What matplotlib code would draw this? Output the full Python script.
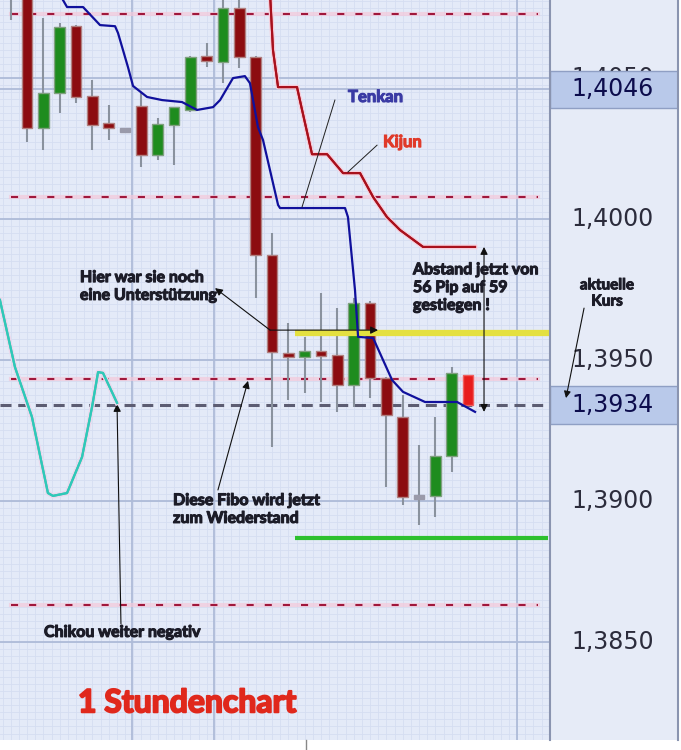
import numpy as np
import matplotlib.pyplot as plt
import matplotlib.patheffects as pe
from matplotlib.lines import Line2D
from matplotlib.patches import Rectangle

# EUR/USD 1h candles, bar 0 is the half visible one at the left edge
opens = [1.4095, 1.4092, 1.40323, 1.40447, 1.40684, 1.40436, 1.40340, 1.40316,
         1.40401, 1.40227, 1.40333, 1.40387, 1.40578, 1.40557, 1.40748, 1.40574,
         1.39872, 1.39525, 1.39511, 1.39532, 1.39518, 1.39411, 1.39702, 1.39436,
         1.39298, 1.39014, 1.39018, 1.39160, 1.39447]
closes = [1.4088, 1.40323, 1.40447, 1.40681, 1.40433, 1.40333, 1.40323, 1.40316,
          1.40227, 1.40337, 1.40397, 1.40574, 1.40560, 1.40748, 1.40574, 1.39872,
          1.39528, 1.39511, 1.39532, 1.39514, 1.39411, 1.39702, 1.39436, 1.39305,
          1.39014, 1.39014, 1.39160, 1.39454, 1.39340]
highs = [1.4100, 1.4100, 1.40713, 1.40695, 1.40690, 1.40493, 1.40404, 1.40322,
         1.40447, 1.40358, 1.40397, 1.40580, 1.40624, 1.40790, 1.40785, 1.40580,
         1.39950, 1.39631, 1.39582, 1.39738, 1.39684, 1.39720, 1.39710, 1.39440,
         1.39376, 1.39199, 1.39298, 1.39475, 1.39447]
lows = [1.40706, 1.40273, 1.40245, 1.40376, 1.40411, 1.40245, 1.40280, 1.40310,
        1.40184, 1.40209, 1.40191, 1.40380, 1.40539, 1.40482, 1.40535, 1.39720,
        1.39191, 1.39358, 1.39383, 1.39351, 1.39316, 1.39333, 1.39365, 1.39050,
        1.38986, 1.38915, 1.38943, 1.39103, 1.39340]

# ichimoku lines (x in bar index)
tenkan_x = [3.2, 3.45, 4.43, 5.47, 6.39, 6.57, 7.18, 7.49, 8.35, 9.27, 10.49, 11.41,
            12.39, 12.82, 13.61, 14.34, 14.65, 15.14, 15.45, 16.37, 16.49, 20.47,
            20.65, 21.08, 21.27, 22.19, 23.35, 24.02, 25.37, 27.33, 28.43]
tenkan_y = [1.40777, 1.40752, 1.40752, 1.40688, 1.40684, 1.40660, 1.40539, 1.40472,
            1.40433, 1.40422, 1.40415, 1.40387, 1.40397, 1.40422, 1.40500, 1.40507,
            1.40482, 1.40326, 1.40280, 1.40050, 1.40039, 1.40039, 1.40007, 1.39748,
            1.39582, 1.39578, 1.39429, 1.39387, 1.39351, 1.39351, 1.39316]
kijun_x = [15.88, 16.06, 16.37, 17.53, 17.84, 18.45, 19.37, 20.35, 21.39, 22.19,
           23.04, 23.84, 25.25, 28.43]
kijun_y = [1.40800, 1.40599, 1.40468, 1.40468, 1.40387, 1.40230, 1.40230, 1.40163,
           1.40163, 1.40078, 1.40007, 1.39961, 1.39901, 1.39901]
chikou_x = [-0.66, 0.26, 1.30, 2.28, 2.59, 3.45, 4.37, 4.98, 5.35, 5.65, 6.51]
chikou_y = [1.39713, 1.39475, 1.39298, 1.39028, 1.39018, 1.39028, 1.39156, 1.39333,
            1.39457, 1.39454, 1.39348]

fibo_levels = [1.40727, 1.40078, 1.39433, 1.38631]
current_price = 1.3934
marked_price = 1.4046
yellow_level = 1.39596
green_level = 1.38869
axis_ticks = [1.4050, 1.4000, 1.3950, 1.3900, 1.3850]
day_lines = [7.43, 12.45, 31.0]

plt.rcParams['font.family'] = ['Lato', 'DejaVu Sans']


def heavy(color, w=0.8):
    # fake a black weight: stroke the glyphs in their own colour
    return [pe.withStroke(linewidth=w, foreground=color)]


ink = '#1c1c28'
note = dict(fontsize=11.5, fontweight='bold', color=ink, va='center',
            linespacing=1.35, path_effects=heavy(ink))
arrow = dict(arrowstyle='-|>', color='#101010', lw=0.8, mutation_scale=11,
             shrinkA=0, shrinkB=0)

fig = plt.figure(figsize=(6.81, 7.5), dpi=100)
ax = fig.add_axes([0, 10 / 750, 550 / 681, 740 / 750])
ax.set_facecolor('#e4eaf8')
ax.set_xlim(-0.655, 33.02)
ax.set_ylim(1.38152, 1.40777)
for s in ax.spines.values():
    s.set_visible(False)
ax.set_xticks([])
ax.set_yticks([])

# fine mesh + main grid
for v in np.arange(1.3815, 1.4080, 0.00025):
    ax.axhline(v, color='#d5ddf1', lw=0.6, zorder=0)
for v in np.arange(-0.5, 33.5, 0.5):
    ax.axvline(v, color='#d5ddf1', lw=0.6, zorder=0)
for v in axis_ticks + [marked_price]:
    ax.axhline(v, color='#aebbd8', lw=1.3, zorder=0.5)
for v in day_lines:
    ax.axvline(v, color='#aebbd8', lw=1.3, zorder=0.5)

# fibo levels
for v in fibo_levels:
    ax.plot([0, 32.3], [v, v], color='#f4c8da', lw=3, alpha=0.7, zorder=1)
    ax.plot([0, 32.3], [v, v], color='#a0183c', lw=1.5, ls=(0, (3.4, 5.3)), zorder=1.1)
ax.axhline(current_price, color='#5c5c72', lw=2.2, ls=(0, (3.6, 2.2)), zorder=1.2)

# candles
n = len(opens)
for i in range(n):
    o, c, h, l = opens[i], closes[i], highs[i], lows[i]
    ax.vlines(i, l, h, color='#8a929e', lw=1.5, zorder=2)
    if c > o:
        fc, ec = '#1e8c1e', '#80a080'
    elif c < o:
        fc, ec = '#8c0c10', '#b08080'
    else:
        fc, ec = '#9a9aaa', '#9a9aaa'
    if i == n - 1:
        fc, ec = '#e81c1c', '#f06060'
    body = max(abs(c - o), 0.00012)
    bottom = min(o, c) if c != o else o - 0.00006
    ax.add_patch(Rectangle((i - 0.33, bottom), 0.66, body, fc=fc, ec=ec,
                           lw=1, zorder=2.5))

ax.plot([17.41, 33.1], [yellow_level] * 2, color='#e4e040', lw=4.5,
        solid_capstyle='butt', zorder=3)
ax.plot([17.41, 32.9], [green_level] * 2, color='#2ec02e', lw=3,
        solid_capstyle='butt', zorder=3)

ax.plot(kijun_x, kijun_y, color='#a8101c', lw=1.5, zorder=4,
        path_effects=[pe.withStroke(linewidth=3.4, foreground='#f7ccd9'), pe.Normal()])
ax.plot(tenkan_x, tenkan_y, color='#10109c', lw=1.6, zorder=4.2)
ax.plot(chikou_x, chikou_y, color='#30c8b8', lw=1.6, zorder=4,
        path_effects=[pe.withStroke(linewidth=3.6, foreground='#ecd8ec'), pe.Normal()])

# notes
ax.text(20.65, 1.40433, 'Tenkan', fontsize=12, fontweight='bold', color='#3a3aa4',
        va='center', zorder=6, path_effects=heavy('#3a3aa4'))
ax.plot([19.85, 17.84], [1.40422, 1.40043], color='#202020', lw=0.7, zorder=5)
ax.text(22.8, 1.40273, 'Kijun', fontsize=12, fontweight='bold', color='#e03a2a',
        va='center', zorder=6, path_effects=heavy('#e03a2a'))
ax.plot([22.43, 20.65], [1.40262, 1.40167], color='#202020', lw=0.7, zorder=5)

ax.text(24.63, 1.39755, 'Abstand jetzt von\n56 Pip auf 59\ngestiegen !', zorder=6, **note)
ax.annotate('', xy=(28.98, 1.39901), xytext=(28.98, 1.39316),
            arrowprops=dict(arrow, arrowstyle='<|-|>'))

ax.text(4.24, 1.39759, 'Hier war sie noch\neine Unterstützung', zorder=6, **note)
ax.annotate('', xy=(12.51, 1.39755), xytext=(15.88, 1.39606), arrowprops=arrow)
ax.annotate('', xy=(22.49, 1.39606), xytext=(15.88, 1.39606), arrowprops=arrow)

ax.text(9.94, 1.38968, 'Diese Fibo wird jetzt\nzum Wiederstand', zorder=6, **note)
ax.annotate('', xy=(14.53, 1.39426), xytext=(12.69, 1.39039), arrowprops=arrow)

ax.text(2.04, 1.38532, 'Chikou weiter negativ', zorder=6, **note)
ax.annotate('', xy=(6.51, 1.39344), xytext=(6.75, 1.38564), arrowprops=arrow)

ax.text(4.12, 1.38284, '1 Stundenchart', fontsize=23, fontweight='bold',
        color='#e0281c', va='center', zorder=6, path_effects=heavy('#e0281c', 1.4))

# price scale on the right
ax2 = fig.add_axes([550 / 681, 10 / 750, 128 / 681, 740 / 750])
ax2.set_facecolor('#e6ebf7')
ax2.set_xlim(0, 1)
ax2.set_ylim(ax.get_ylim())
ax2.set_xticks([])
ax2.set_yticks([])
for k in ('top', 'bottom'):
    ax2.spines[k].set_visible(False)
for k in ('left', 'right'):
    ax2.spines[k].set_color('#8a94b0')
    ax2.spines[k].set_linewidth(1.5)

for v in axis_ticks:
    ax2.text(0.17, v, f'{v:.4f}'.replace('.', ','), fontsize=17, family='DejaVu Sans',
             color='#2c2c3c', va='center', zorder=1)
for v in (marked_price, current_price):
    ax2.add_patch(Rectangle((0, v - 0.00066), 1, 0.00132, fc='#b9c9ea', ec='#8f9fc4',
                            lw=1, zorder=2))
    ax2.text(0.17, v, f'{v:.4f}'.replace('.', ','), fontsize=17, family='DejaVu Sans',
             color='#0c0c4c', va='center', zorder=3)

ax2.text(0.445, 1.39736, 'aktuelle\nKurs', fontsize=11, fontweight='bold',
         color=ink, ha='center', va='center', linespacing=1.2, zorder=4,
         path_effects=heavy(ink, 0.7))
ax2.annotate('', xy=(0.125, 1.39365), xytext=(0.266, 1.39684),
             arrowprops=dict(arrow, mutation_scale=10), zorder=4)

# small time tick under the chart
fig.add_artist(Line2D([306 / 681] * 2, [0, 10 / 750], color='#888888', lw=1))

fig.savefig('out.png', dpi=100, facecolor='white')
